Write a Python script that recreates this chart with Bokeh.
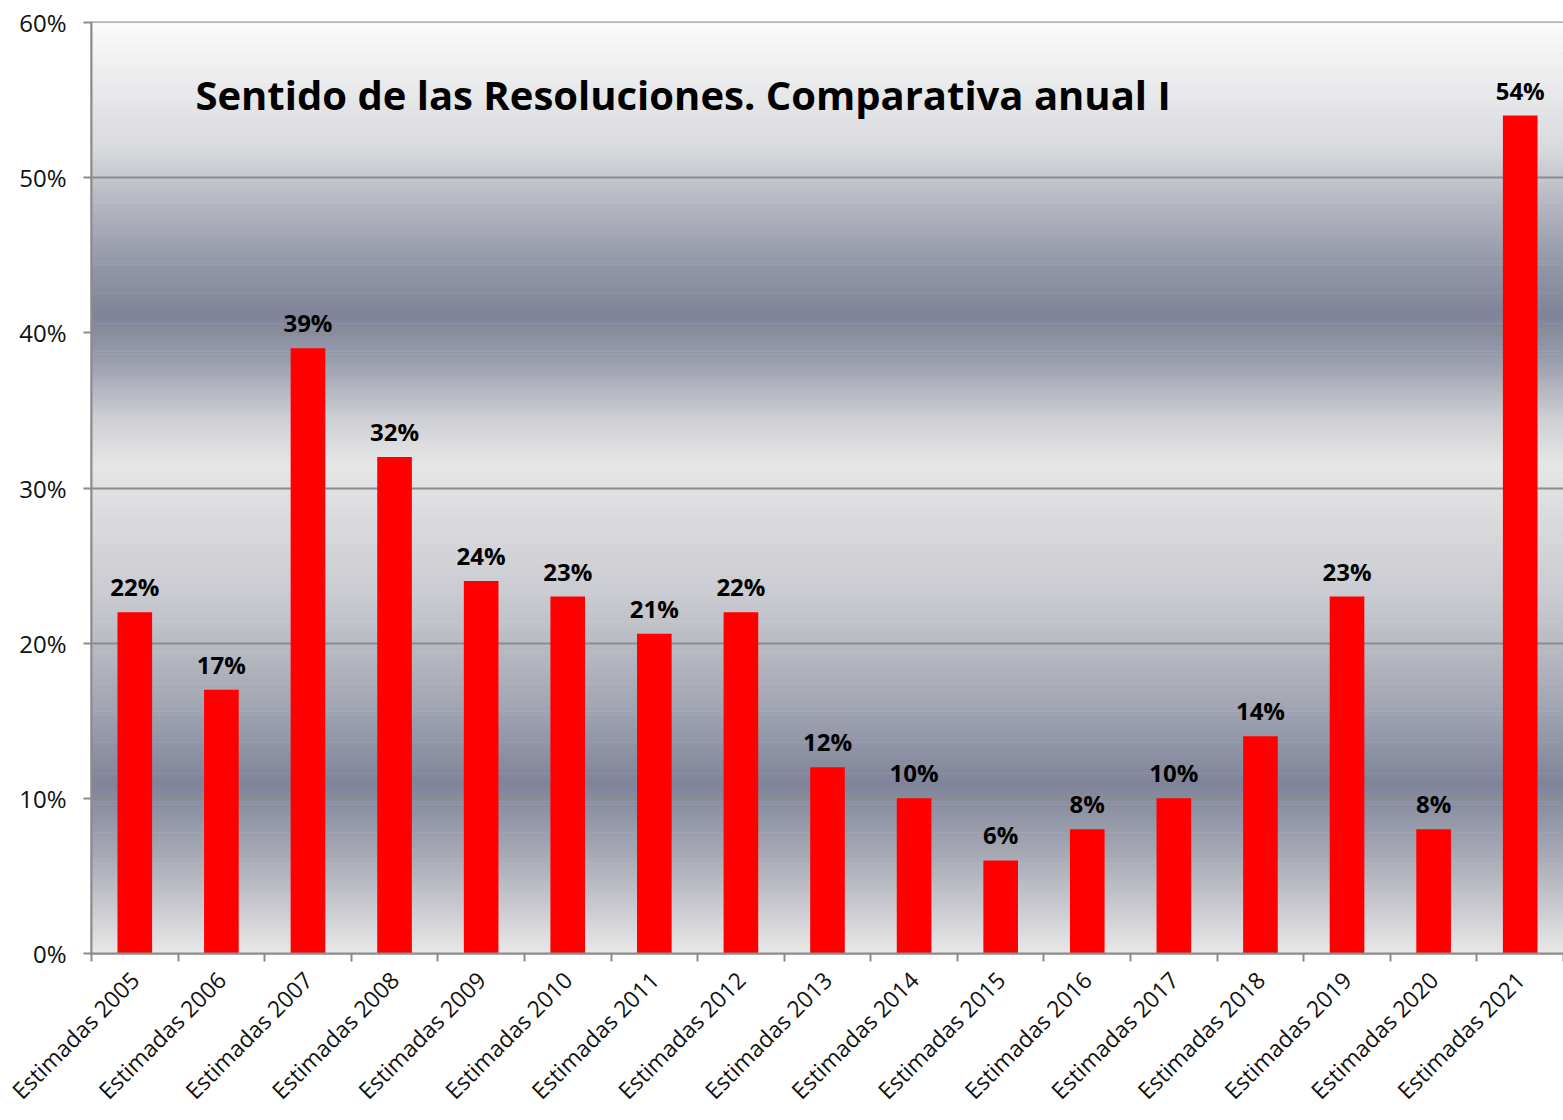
import math
import numpy as np
from bokeh.plotting import figure
from bokeh.models import (ColumnDataSource, FixedTicker, Range1d, BoxAnnotation,
                          Label, LabelSet, CustomJSTickFormatter)
from bokeh.core.properties import value
from bokeh.embed import file_html
from bokeh.resources import INLINE

# ---- data ----
categories = ["Estimadas 2005", "Estimadas 2006", "Estimadas 2007", "Estimadas 2008",
              "Estimadas 2009", "Estimadas 2010", "Estimadas 2011", "Estimadas 2012",
              "Estimadas 2013", "Estimadas 2014", "Estimadas 2015", "Estimadas 2016",
              "Estimadas 2017", "Estimadas 2018", "Estimadas 2019", "Estimadas 2020",
              "Estimadas 2021"]
values = [22, 17, 39, 32, 24, 23, 20.6, 22, 12, 10, 6, 8, 10, 14, 23, 8, 54]
y_ticks = [0, 10, 20, 30, 40, 50, 60]
title_text = "Sentido de las Resoluciones. Comparativa anual I"

FONT = "Open Sans"

n = len(categories)
centers = np.arange(n) + 0.5
bounds = list(np.arange(n + 1).astype(float))

src = ColumnDataSource(dict(
    x=centers,
    top=values,
    label=[f"{v:.0f}%" for v in values],
))

p = figure(width=1563, height=1120, output_backend="svg", toolbar_location=None,
           x_range=Range1d(0, n), y_range=Range1d(0, 60),
           min_border_left=91, min_border_right=0, min_border_top=22,
           min_border_bottom=165)

# ---- background gradient (style) ----
stops_px = [(22, "#fbfbfb"), (150, "#d8d9dd"), (200, "#b6b8c2"), (260, "#9699a9"),
            (315, "#7f8499"), (360, "#999cab"), (420, "#cfd0d5"), (466, "#e6e6e6"),
            (600, "#c9cad0"), (700, "#a5a8b4"), (785, "#7f8499"), (860, "#a9abb6"),
            (955, "#e8e8e8")]

def hex2rgb(h):
    h = h.lstrip("#")
    return [int(h[i:i + 2], 16) for i in (0, 2, 4)]

def px2val(py):
    return (955 - py) / (955 - 22) * 60

sp = [px2val(s[0]) for s in stops_px]
sc = [hex2rgb(s[1]) for s in stops_px]
nb = 300
edges = np.linspace(60, 0, nb + 1)
for i in range(nb):
    mid = (edges[i] + edges[i + 1]) / 2
    for j in range(len(sp) - 1):
        if sp[j] >= mid >= sp[j + 1]:
            t = (sp[j] - mid) / (sp[j] - sp[j + 1])
            rgb = [round(sc[j][k] + t * (sc[j + 1][k] - sc[j][k])) for k in range(3)]
            break
    col = "#%02x%02x%02x" % tuple(rgb)
    p.add_layout(BoxAnnotation(bottom=edges[i + 1] - 0.02, top=edges[i] + 0.02,
                               fill_color=col, fill_alpha=1.0, line_color=None,
                               level="image"))

p.vbar(x="x", top="top", width=0.4, bottom=0, source=src,
       fill_color="#ff0000", line_color=None)

p.add_layout(LabelSet(x="x", y="top", text="label", source=src,
                      text_align="center", text_baseline="bottom", y_offset=9,
                      text_font=value(FONT), text_font_style="bold",
                      text_font_size="24px", text_color="#000000"))

p.add_layout(Label(x=1.2, y=px2val(94), text=title_text, text_font=FONT,
                   text_font_style="bold", text_font_size="40px",
                   text_color="#000000", text_baseline="alphabetic"))

# grid
p.xgrid.visible = False
p.ygrid.ticker = FixedTicker(ticks=y_ticks)
p.ygrid.grid_line_color = "#8c8c8c"
p.ygrid.grid_line_width = 2

p.outline_line_color = "#8c8c8c"
p.outline_line_width = 2

# y axis
p.yaxis.ticker = FixedTicker(ticks=y_ticks)
p.yaxis.formatter = CustomJSTickFormatter(code="return tick + '%';")
p.yaxis.major_label_text_font = FONT
p.yaxis.major_label_text_font_size = "24px"
p.yaxis.major_label_text_color = "#111111"
p.yaxis.axis_line_color = "#8c8c8c"
p.yaxis.axis_line_width = 2
p.yaxis.major_tick_line_color = "#8c8c8c"
p.yaxis.major_tick_line_width = 2
p.yaxis.major_tick_in = 0
p.yaxis.major_tick_out = 8
p.yaxis.minor_tick_line_color = None
p.yaxis.major_label_standoff = 17

# x axis
p.xaxis.ticker = FixedTicker(ticks=list(centers), minor_ticks=bounds)
p.xaxis.major_label_overrides = {float(c): cat for c, cat in zip(centers, categories)}
p.xaxis.major_label_orientation = math.pi / 4
p.xaxis.major_label_text_font = FONT
p.xaxis.major_label_text_font_size = "23px"
p.xaxis.major_label_text_color = "#111111"
p.xaxis.major_tick_line_color = None
p.xaxis.minor_tick_line_color = "#8c8c8c"
p.xaxis.minor_tick_line_width = 2
p.xaxis.minor_tick_in = 0
p.xaxis.minor_tick_out = 8
p.xaxis.axis_line_color = "#8c8c8c"
p.xaxis.axis_line_width = 2
p.xaxis.major_label_standoff = 14

p.background_fill_color = "#ffffff"
p.border_fill_color = "#ffffff"

open("out.html", "w").write(file_html(p, INLINE))
